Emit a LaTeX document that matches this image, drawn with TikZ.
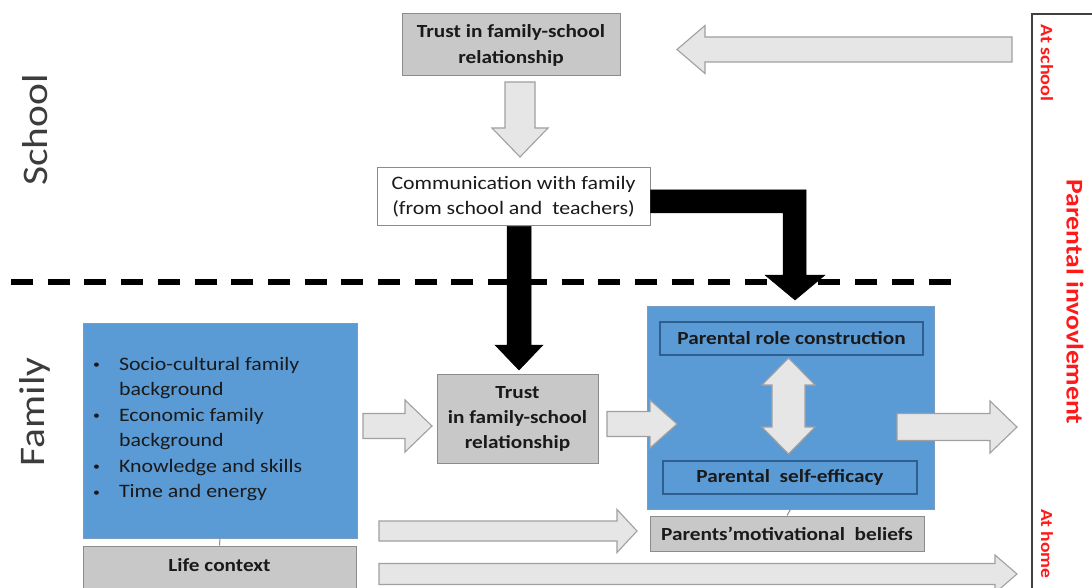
\documentclass[tikz,border=0pt]{standalone}
\usepackage{fontspec}
\setmainfont{Carlito}[FakeStretch=1.15]
\usetikzlibrary{calc}
\definecolor{boxblue}{HTML}{5B9BD5}
\definecolor{boxgray}{HTML}{C8C8C8}
\definecolor{boxedge}{HTML}{8C8C8C}
\definecolor{arrfill}{HTML}{E6E6E6}
\definecolor{arredge}{HTML}{A0A0A0}
\definecolor{txt}{HTML}{1A1A1A}
\definecolor{inneredge}{HTML}{2E5F8F}
\definecolor{outeredge}{HTML}{7A9CC0}
\definecolor{piRed}{HTML}{FF1A1A}
\newcommand\blockarrow[6]{%
  \coordinate (hb) at ($(#3)!#6!(#2)$);
  \draw[#1] ($(#2)!#4!90:(#3)$) -- ($(hb)!#4!90:(#3)$) -- ($(hb)!#5!90:(#3)$) -- (#3)
    -- ($(hb)!#5!-90:(#3)$) -- ($(hb)!#4!-90:(#3)$) -- ($(#2)!#4!-90:(#3)$) -- cycle;}
\newcommand\smallbullet{\raisebox{1.5pt}{\fontsize{12}{12}\selectfont\textbullet}}
\begin{document}
\begin{tikzpicture}[x=1pt,y=-1pt,
  graybox/.style={draw=boxedge,fill=boxgray,line width=1pt,align=center,text=txt,inner sep=0pt,
    font=\bfseries\fontsize{18.5}{26}\selectfont},
  bluebox/.style={draw=outeredge,fill=boxblue,line width=0.8pt,inner sep=0pt},
  innerbox/.style={draw=inneredge,fill=boxblue,line width=1.2pt,inner sep=0pt,text=txt,
    font=\bfseries\fontsize{18.5}{22}\selectfont},
  grayarrow/.style={fill=arrfill,draw=arredge,line width=1.1pt,line join=miter},
  blackarrow/.style={fill=black,draw=black,line width=0.5pt,line join=miter},
  sidelabel/.style={text=txt!85,font=\fontsize{36}{40}\selectfont,rotate=90},
  redlabel/.style={text=piRed,rotate=-90,inner sep=0pt}]
\useasboundingbox (0,0) rectangle (1092,588);
\clip (0,0) rectangle (1092,588);
\fill[white] (0,0) rectangle (1092,588);

% side labels
\node[sidelabel] (school) at (35,130) {School};
\node[sidelabel] (family) at (35,412) {Family};

% dashed separator
\coordinate (dashL) at (11,282);
\coordinate (dashR) at (962,282);
\draw[line width=6pt,dash pattern=on 22pt off 14.7pt] (dashL) -- (dashR);

% school part
\node[graybox,minimum width=218pt,minimum height=62pt] (trustTop) at (511,45)
  {Trust in family-school\\relationship};
\node[draw=boxedge,fill=white,line width=1pt,minimum width=273pt,minimum height=58pt,align=center,
  text=txt,inner sep=0pt,font=\fontsize{19}{25}\selectfont] (comm) at (513.5,197)
  {Communication with family\\(from school and\ \ teachers)};

% family part
\node[bluebox,minimum width=274pt,minimum height=215pt] (blueL) at (220,430.5) {};
\node[anchor=north west,inner sep=0pt,text=txt,font=\fontsize{19}{25.5}\selectfont] (bullets) at (93,352)
  {\begin{tabular}{@{}l@{\hspace{19pt}}l@{}}
   \smallbullet & Socio-cultural family\\
               & background\\
   \smallbullet & Economic family\\
               & background\\
   \smallbullet & Knowledge and skills\\
   \smallbullet & Time and energy
   \end{tabular}};
\node[graybox,minimum width=273pt,minimum height=54pt] (life) at (219.5,573) {};
\node[text=txt,inner sep=0pt,font=\bfseries\fontsize{18.5}{22}\selectfont] (lifetxt) at (219.5,565) {Life context};
\draw[boxedge,line width=1pt] (blueL.south) -- (life.north);

\node[graybox,minimum width=161pt,minimum height=89pt,font=\bfseries\fontsize{18.5}{25}\selectfont]
  (trustMid) at (517.5,418.5) {Trust\\in family-school\\relationship};

\node[bluebox,minimum width=287pt,minimum height=203pt] (blueR) at (790.5,407.5) {};
\node[innerbox,minimum width=263pt,minimum height=33pt] (role) at (791.5,338.5) {Parental role construction};
\node[innerbox,minimum width=254pt,minimum height=33pt] (eff) at (790,477.5) {Parental\ \ self-efficacy};
\node[graybox,minimum width=274pt,minimum height=35pt,font=\bfseries\fontsize{18.5}{22}\selectfont]
  (motiv) at (787,533.5) {Parents’motivational\ \ beliefs};
\draw[boxedge,line width=1pt] (blueR.south) -- (motiv.north);

% double arrow between role and efficacy
\coordinate (dtop) at (788.5,358);
\coordinate (dbot) at (788.5,454);
\draw[grayarrow] (dtop) -- (815,385) -- (805,385) -- (805,427) -- (815,427) -- (dbot)
  -- (762,427) -- (772,427) -- (772,385) -- (762,385) -- cycle;

% gray block arrows
\coordinate (aTopTail) at (1012,49.5);
\coordinate (aTopTip) at (677,49.5);
\blockarrow{grayarrow}{aTopTail}{aTopTip}{12.5pt}{24pt}{28pt}
\coordinate (aDownTail) at (520,82);
\coordinate (aDownTip) at (520,157);
\blockarrow{grayarrow}{aDownTail}{aDownTip}{15pt}{28pt}{29pt}
\coordinate (a1Tail) at (363,426);
\coordinate (a1Tip) at (432,426);
\blockarrow{grayarrow}{a1Tail}{a1Tip}{12.5pt}{26pt}{27pt}
\coordinate (a2Tail) at (607,424);
\coordinate (a2Tip) at (677,424);
\blockarrow{grayarrow}{a2Tail}{a2Tip}{12.5pt}{24pt}{27pt}
\coordinate (a3Tail) at (897,427);
\coordinate (a3Tip) at (1017,427);
\blockarrow{grayarrow}{a3Tail}{a3Tip}{13.5pt}{26pt}{27pt}
\coordinate (a4Tail) at (379,531);
\coordinate (a4Tip) at (637,531);
\blockarrow{grayarrow}{a4Tail}{a4Tip}{10pt}{21.5pt}{20pt}
\coordinate (a5Tail) at (379,574);
\coordinate (a5Tip) at (1017,574);
\blockarrow{grayarrow}{a5Tail}{a5Tip}{10.5pt}{19pt}{22pt}

% black arrows
\coordinate (b1Tail) at ([xshift=5.5pt]comm.south);
\coordinate (b1Tip) at (519,370);
\blockarrow{blackarrow}{b1Tail}{b1Tip}{12pt}{24pt}{25pt}
\coordinate (b2Tip) at (795,300);
\draw[blackarrow] ([yshift=7pt]comm.east) -- (806,190) -- (806,275) -- (825,275) -- (b2Tip)
  -- (765,275) -- (783,275) -- (783,213) -- ([yshift=-16pt]comm.east) -- cycle;

% right bracket and labels
\coordinate (brTop) at (1032,14);
\coordinate (brBot) at (1032,590);
\coordinate (brEnd) at (1094,14);
\draw[black!75,line width=1.5pt] (brBot) -- (brTop) -- (brEnd);
\node[redlabel,font=\bfseries\fontsize{17.5}{20}\selectfont] (atschool) at (1047,63) {At school};
\node[redlabel,font=\bfseries\fontsize{24}{28}\selectfont] (pi) at (1075,302) {Parental invovlement};
\node[redlabel,font=\bfseries\fontsize{17}{20}\selectfont] (athome) at (1047,544) {At home};
\end{tikzpicture}
\end{document}
